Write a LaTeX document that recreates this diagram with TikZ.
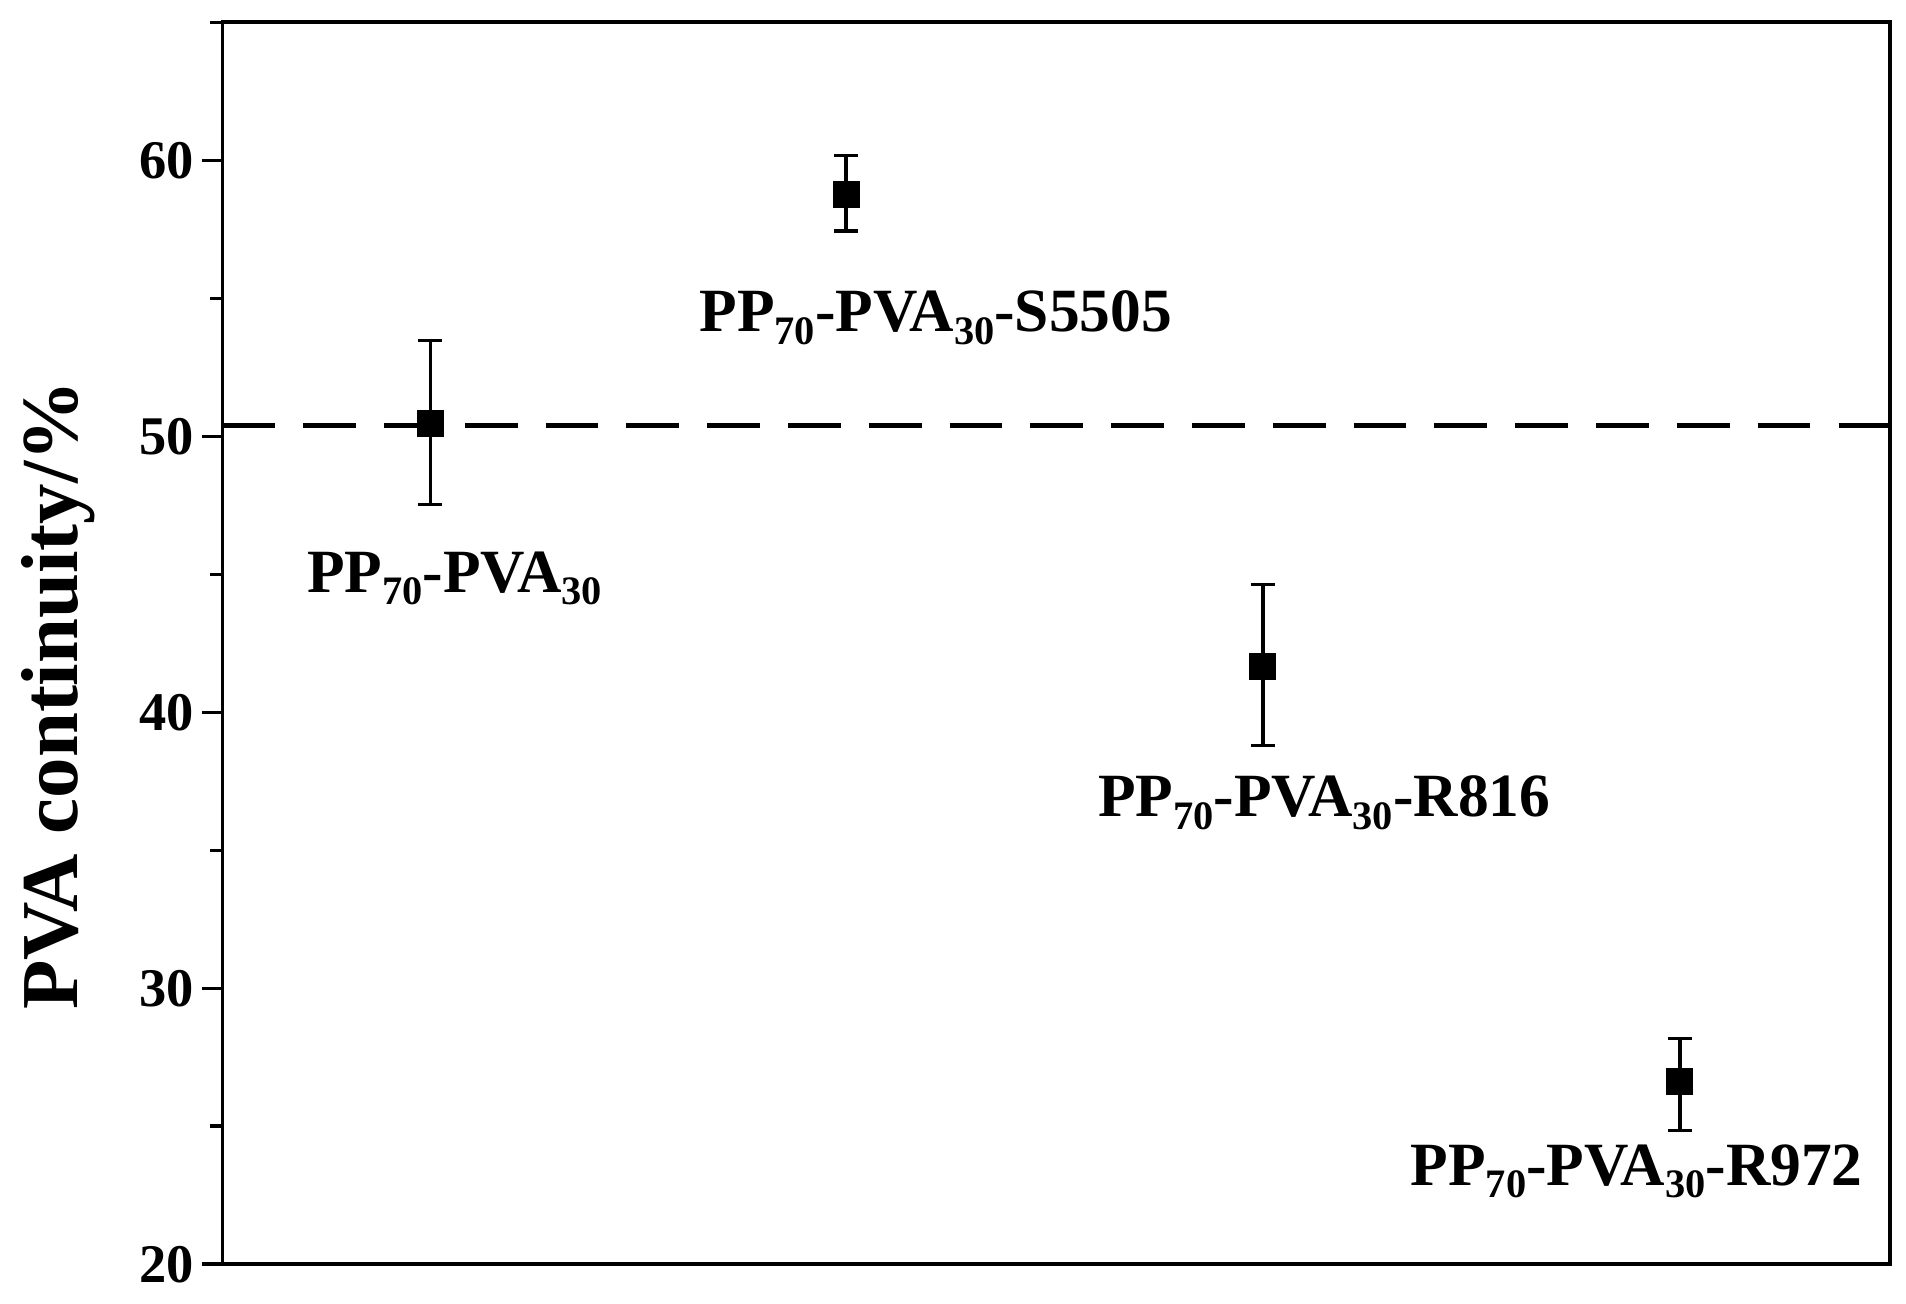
\documentclass[tikz,border=0pt]{standalone}
\usepackage{fontspec}
\setmainfont{Liberation Serif}
\newcommand{\mysb}[1]{\raisebox{-0.45ex}{\fontsize{11.5}{12}\selectfont #1}}
\begin{document}
\begin{tikzpicture}[x=0.012156cm,y=-0.012156cm,
  lab/.style={font=\bfseries\fontsize{17.5}{20}\selectfont,anchor=base west,inner sep=0},
  tick/.style={font=\bfseries\fontsize{15.5}{17}\selectfont,anchor=east,inner sep=0},
  eb/.style={line width=0.9pt},
  mk/.style={fill=black,draw=none,minimum size=0.27cm,inner sep=0}]
\useasboundingbox (0,0) rectangle (1568,1072.7);
\draw[line width=1.1pt] (183,18) rectangle (1555,1040);
\foreach \v in {20,30,40,50,60}{
  \pgfmathsetmacro\yy{1040-(\v-20)*22.7}
  \draw[line width=1pt] (183,\yy) -- (166,\yy);
  \node[tick] (t\v) at (160,\yy) {\v};}
\foreach \v in {25,35,45,55,65}{
  \pgfmathsetmacro\yy{1040-(\v-20)*22.7}
  \draw[line width=1pt] (183,\yy) -- (173,\yy);}
\node[rotate=90,font=\bfseries\fontsize{23}{26}\selectfont] (yl) at (48,572) {PVA continuity/\%};
\coordinate (dl) at (183,350); \coordinate (dr) at (1555,350);
\draw[line width=1.6pt,dash pattern=on 15pt off 8pt] (dl) -- (dr);
\foreach \n/\x/\y/\a/\b in {p1/354/348/280/415, p2/696/160/128/190, p3/1039/548/481/613, p4/1382/890/854/930}{
  \draw[eb] (\x,\a) -- (\x,\b) (\x-10,\a) -- (\x+10,\a) (\x-10,\b) -- (\x+10,\b);
  \node[mk] (\n) at (\x,\y) {};}
\node[lab] (l1) at (252,487) {PP\mysb{70}-PVA\mysb{30}};
\node[lab] (l2) at (575,273) {PP\mysb{70}-PVA\mysb{30}-S5505};
\node[lab] (l3) at (903,672) {PP\mysb{70}-PVA\mysb{30}-R816};
\node[lab] (l4) at (1160,975) {PP\mysb{70}-PVA\mysb{30}-R972};
\end{tikzpicture}
\end{document}
